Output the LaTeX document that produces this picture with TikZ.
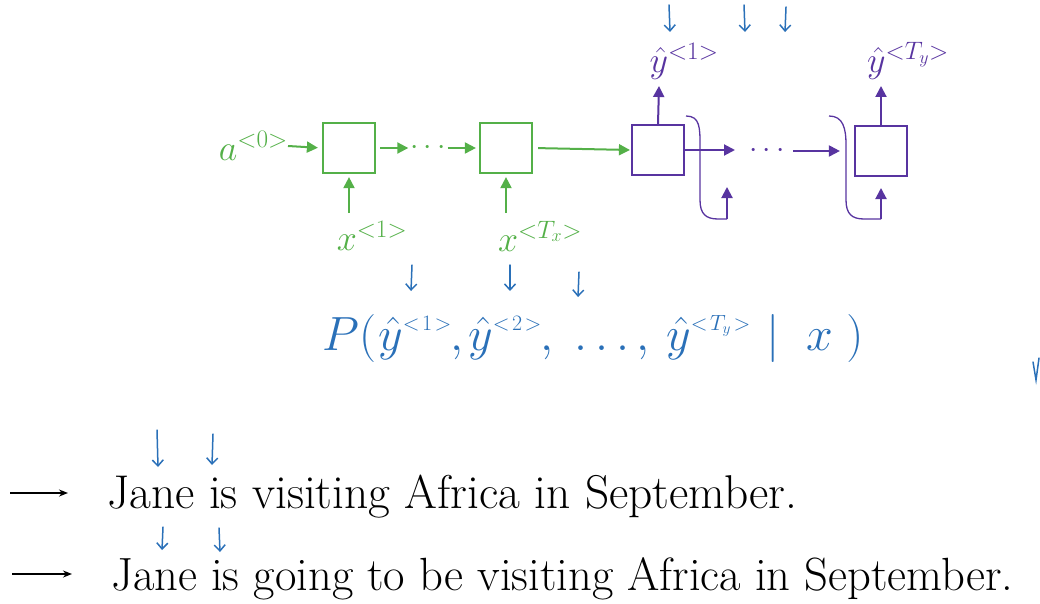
\RequirePackage{fix-cm}
\documentclass[tikz,border=0pt]{standalone}
\usetikzlibrary{arrows.meta}
\definecolor{cg}{RGB}{84,176,72}
\definecolor{cp}{RGB}{88,52,160}
\definecolor{cb}{RGB}{42,112,184}
\newcommand\handy[1]{$\hat{y}$\raisebox{20pt}{\fontsize{22}{24}\selectfont$<\!#1\!>$}}
\begin{document}
\begin{tikzpicture}[x=1pt,y=-1pt,
  gbox/.style={draw=cg,line width=2.2pt,minimum width=52pt,minimum height=50pt,inner sep=0pt},
  pbox/.style={draw=cp,line width=2.2pt,minimum width=52pt,minimum height=50pt,inner sep=0pt},
  garr/.style={cg,line width=2pt,-{Triangle[length=11pt,width=11pt]}},
  parr/.style={cp,line width=2pt,-{Triangle[length=11pt,width=11pt]}},
  pcurve/.style={cp,line width=1.3pt},
  hand/.style={cb,line width=1.5pt,line cap=round,-{Straight Barb[length=6pt,width=11pt]}},
  karr/.style={black,line width=1.6pt,-{Stealth[length=9pt,width=7pt]}},
  glab/.style={text=cg,font=\fontsize{36}{40}\selectfont,inner sep=0pt},
  plab/.style={text=cp,font=\fontsize{36}{40}\selectfont,inner sep=0pt},
  hw/.style={text=cb,font=\fontsize{48}{52}\selectfont,inner sep=0pt,anchor=base west},
  sent/.style={font=\fontsize{47.4}{52}\selectfont,inner sep=0pt,anchor=base west}
]
\useasboundingbox (0,0) rectangle (1040,604);

% green encoder
\node[gbox] (b1) at (349,148) {};
\node[gbox] (b2) at (506,148) {};
\node[glab,anchor=east] (a0) at (288,146) {$a^{<0>}$};
\draw[garr,shorten >=4pt] (a0.east) -- (b1.west);
\node[text=cg,font=\fontsize{30}{30}\selectfont,inner sep=0pt] (gd) at (428,148) {$\cdots$};
\draw[garr,shorten <=4pt,shorten >=2pt] (b1.east) -- (gd.west);
\draw[garr,shorten <=2pt,shorten >=3pt] (gd.east) -- (b2.west);
\node[glab] (x1) at (372,236) {$x^{<1>}$};
\node[glab] (x2) at (540,236) {$x^{<T_x>}$};
\coordinate (x1t) at (349,213);
\coordinate (x2t) at (506,213);
\draw[garr,shorten >=3pt] (x1t) -- (b1.south);
\draw[garr,shorten >=3pt] (x2t) -- (b2.south);

% purple decoder
\node[pbox] (b3) at (658,150) {};
\node[pbox] (b4) at (881,151) {};
\draw[garr,shorten <=5pt,shorten >=1pt] (b2.east) -- (b3.west);
\node[plab] (y1) at (684,61) {$\hat{y}^{<1>}$};
\node[plab] (y2) at (908,61) {$\hat{y}^{<T_y>}$};
\coordinate (y1b) at (659,86);
\coordinate (y2b) at (881,86);
\draw[parr] (b3.north) -- (y1b);
\draw[parr] (b4.north) -- (y2b);
\coordinate (p1) at (735,150);
\node[text=cp,font=\fontsize{30}{30}\selectfont,inner sep=0pt] (pd) at (767,151) {$\cdots$};
\coordinate (p2) at (793,151);
\draw[parr] (b3.east) -- (p1);
\draw[parr,shorten >=14pt] (p2) -- (b4.west);
\coordinate (f1) at (727,219);
\coordinate (f1t) at (727,187);
\coordinate (f2) at (881,219);
\coordinate (f2t) at (881,188);
\draw[pcurve] (686,116) .. controls (700,116) and (700,128) .. (700,145) -- (700,200)
  .. controls (700,214) and (706,219) .. (718,219) -- (f1);
\draw[parr] (f1) -- (f1t);
\draw[pcurve] (829,116) .. controls (843,116) and (846,128) .. (846,145) -- (846,200)
  .. controls (846,214) and (852,219) .. (864,219) -- (f2);
\draw[parr] (f2) -- (f2t);

% hand-drawn arrows (top)
\draw[hand] (669,5) -- (670,32);
\draw[hand] (744,5) -- (745,32);
\draw[hand] (786,7) -- (785,32);

% handwritten probability
\node[hw] (hP) at (322,350) {$P($};
\node[hw] (hy1) at (378,350) {\handy{1}};
\node[hw] (hc1) at (450,350) {$,$};
\node[hw] (hy2) at (468,350) {\handy{2}};
\node[hw] (hc2) at (540,350) {$,$};
\node[hw] (hd) at (574,350) {$\ldots$};
\node[hw] (hc3) at (636,350) {$,$};
\node[hw] (hy3) at (666,350) {\handy{T_y}};
\node[hw] (hx) at (766,350) {$|\;\;x\;)$};
\draw[hand] (412,265) -- (411,291);
\draw[hand] (510,265) -- (510,291);
\draw[hand] (579,272) -- (578,297);
\draw[cb,line width=1.5pt,line cap=round] (1033,362) -- (1036,380) -- (1039,358);

% sentences
\coordinate (k1s) at (10,493);
\coordinate (k1e) at (68,493);
\coordinate (k2s) at (12,574);
\coordinate (k2e) at (72,574);
\draw[karr] (k1s) -- (k1e);
\draw[karr] (k2s) -- (k2e);
\node[sent] (s1) at (107,508) {Jane is visiting Africa in September.};
\node[sent,font=\fontsize{46.6}{52}\selectfont] (s2) at (111,590) {Jane is going to be visiting Africa in September.};
\draw[hand] (157,430) -- (158,467);
\draw[hand] (213,434) -- (212,465);
\draw[hand] (163,527) -- (162,550);
\draw[hand] (219,528) -- (220,552);
\end{tikzpicture}
\end{document}
